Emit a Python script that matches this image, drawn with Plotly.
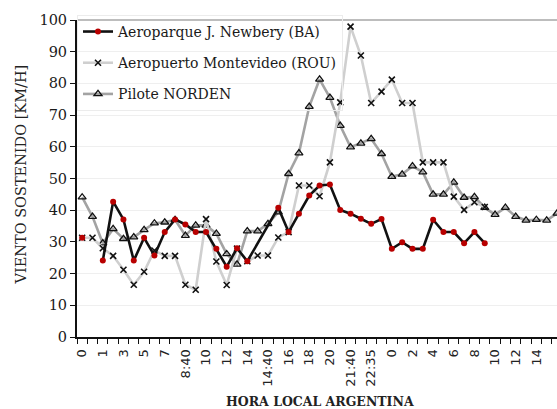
import plotly.graph_objects as go

# category tick labels (every other category position)
tick_labels = ["0", "1", "3", "5", "7", "8:40", "10", "12", "14", "14:40", "16", "18",
               "20", "21:40", "22:35", "0", "2", "4", "6", "8", "10", "12", "14", "16"]

ba_name = "Aeroparque J. Newbery (BA)"
rou_name = "Aeropuerto Montevideo (ROU)"
nor_name = "Pilote NORDEN"

ba = [31.3, None, 24.1, 42.7, 37.1, 24.1, 31.3, 25.7, 33.1, 37.1, 35.5, 33.1, 33.1, 27.8,
      22.2, 28.0, 23.9, None, None, 40.8, 33.1, 38.9, 44.6, 47.8, 48.1, 40.1, 38.9, 37.3,
      35.7, 37.2, 27.8, 29.9, 27.8, 27.8, 37.0, 33.1, 33.1, 29.6, 33.1, 29.6]

rou = [31.3, 31.3, 28.0, 25.6, 21.2, 16.5, 20.6, 27.3, 25.6, 25.6, 16.5, 14.9, 37.2, 23.8,
       16.4, 27.9, 23.9, 25.7, 25.7, 31.4, 33.1, 47.8, 47.8, 44.4, 55.1, 74.0, 97.9, 88.8,
       73.8, 77.4, 81.2, 73.8, 73.8, 55.1, 55.1, 55.1, 44.3, 40.1, 42.5, 41.0]

nor = [44.1, 38.0, 29.6, 34.1, 31.0, 31.5, 33.8, 35.9, 36.2, 37.0, 32.0, 35.2, 35.2, 32.6,
       26.2, 22.9, 33.4, 33.4, 35.7, 39.4, 51.5, 58.0, 72.7, 81.3, 75.5, 66.7, 59.9, 61.1,
       62.5, 57.8, 50.6, 51.3, 53.9, 52.0, 45.0, 45.0, 48.8, 44.0, 44.2, 40.8, 38.6, 40.8,
       38.0, 36.8, 37.0, 36.8, 39.0]

fig = go.Figure()

fig.add_trace(go.Scatter(
    x=list(range(len(nor))), y=nor, name=nor_name, mode="lines+markers",
    legendgroup="nor", legendrank=3,
    line=dict(color="#a3a3a3", width=2.6),
    marker=dict(symbol="triangle-up-open", size=7, color="#111111", line=dict(width=1.3, color="#111111")),
))
fig.add_trace(go.Scatter(
    x=list(range(len(rou))), y=rou, name=rou_name, mode="lines+markers",
    legendgroup="rou", legendrank=2,
    line=dict(color="#cfcfcf", width=2.6),
    marker=dict(symbol="x-thin", size=6, color="#111111", line=dict(width=1.6, color="#111111")),
))
# first isolated BA observation
fig.add_trace(go.Scatter(
    x=[0], y=ba[:1], name=ba_name, mode="markers", legendgroup="ba", showlegend=False,
    legendrank=1,
    marker=dict(symbol="circle", size=6, color="#b80000"),
))
fig.add_trace(go.Scatter(
    x=list(range(2, len(ba))), y=ba[2:], name=ba_name, mode="lines+markers",
    legendgroup="ba", connectgaps=True, legendrank=1,
    line=dict(color="#111111", width=2.6),
    marker=dict(symbol="circle", size=6, color="#b80000"),
))

serif = "DejaVu Serif"

fig.update_layout(
    width=557, height=409,
    margin=dict(l=77, r=0, t=20, b=72),
    paper_bgcolor="white", plot_bgcolor="white",
    showlegend=True,
    legend=dict(
        x=0.0, y=1.016, xanchor="left", yanchor="top",
        font=dict(family=serif, size=14, color="#1a1a1a"),
        bgcolor="rgba(255,255,255,0)", bordercolor="#ececec", borderwidth=1,
        traceorder="grouped", tracegroupgap=10,
        itemwidth=30,
    ),
    xaxis=dict(
        range=[-0.5, 46.0],
        tickmode="array",
        tickvals=list(range(0, 2 * len(tick_labels), 2)),
        ticktext=tick_labels,
        tickangle=-90,
        tickfont=dict(family="DejaVu Sans", size=13, color="#222222"),
        ticks="outside", ticklen=5, tickcolor="rgba(0,0,0,0)",
        minor=dict(tickmode="array", tickvals=[k - 0.5 for k in range(48)],
                   ticks="outside", ticklen=5, tickcolor="#111111", tickwidth=1.2,
                   showgrid=False),
        showline=True, linecolor="#111111", linewidth=2,
        showgrid=False, zeroline=False,
    ),
    yaxis=dict(
        range=[0, 100],
        tickvals=list(range(0, 101, 10)),
        tickfont=dict(family=serif, size=14.5, color="#1a1a1a"),
        ticks="outside", ticklen=5, tickcolor="#111111", tickwidth=1.2,
        showline=True, linecolor="#111111", linewidth=2,
        showgrid=True, gridcolor="#efefef", gridwidth=1,
        zeroline=False,
    ),
    shapes=[dict(type="line", xref="paper", yref="paper", x0=0, x1=1, y0=1, y1=1,
                 line=dict(color="#bdbdbd", width=2))],
    annotations=[
        dict(text="VIENTO SOSTENIDO [KM/H]", xref="paper", yref="paper", x=0, y=0.5,
             xanchor="center", yanchor="middle", xshift=-57, yshift=4, textangle=-90,
             showarrow=False, font=dict(family=serif, size=14.5, color="#222222")),
        dict(text="<b>HORA LOCAL ARGENTINA</b>", xref="paper", yref="paper", x=0.506, y=0,
             xanchor="center", yanchor="middle", yshift=-64,
             showarrow=False, font=dict(family=serif, size=12.5, color="#222222")),
    ],
)

fig.write_html("out.html")
